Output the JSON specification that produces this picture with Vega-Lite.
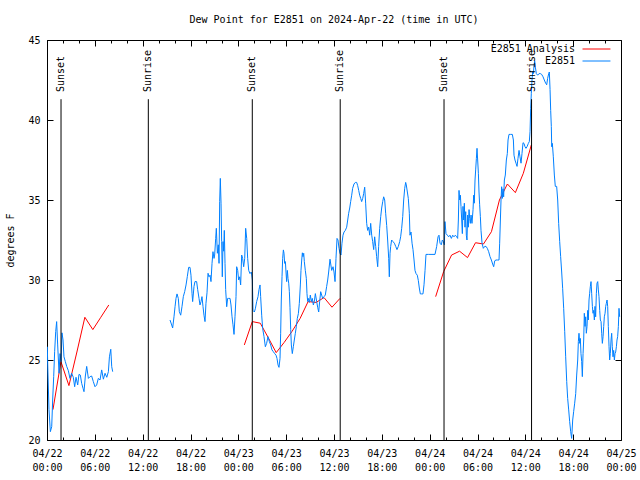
{
  "$schema": "https://vega.github.io/schema/vega-lite/v6.json",
  "width": 574,
  "height": 400,
  "autosize": {"type": "none"},
  "padding": {"left": 47, "top": 40, "right": 19, "bottom": 40},
  "background": "white",
  "title": {"text": "Dew Point for E2851 on 2024-Apr-22 (time in UTC)", "font": "DejaVu Sans Mono", "fontSize": 10, "fontWeight": "normal", "anchor": "middle", "offset": 10, "color": "black"},
  "config": {
    "view": {"stroke": "black", "strokeWidth": 1},
    "font": "DejaVu Sans Mono",
    "axis": {"labelFont": "DejaVu Sans Mono", "labelFontSize": 10, "labelColor": "black", "tickColor": "black", "tickWidth": 1, "titleFont": "DejaVu Sans Mono", "titleFontSize": 10, "titleFontWeight": "normal", "titleColor": "black", "grid": false, "domain": false, "labelFlush": false, "labelOverlap": false, "labelBound": false},
    "legend": {"orient": "none", "legendX": 535, "legendY": 2, "title": null, "symbolType": "M-1,0H3.3", "symbolSize": 169, "symbolStrokeWidth": 1, "labelAlign": "right", "labelOffset": -21, "labelFont": "DejaVu Sans Mono", "labelFontSize": 10, "labelColor": "black", "padding": 0, "rowPadding": 0, "labelLimit": 200}
  },
  "datasets": {
    "analysis": [
      {"seg": 1, "hour": 0.75, "value": 21.9}, {"seg": 1, "hour": 1.75, "value": 24.9}, {"seg": 1, "hour": 2.75, "value": 23.4}, {"seg": 1, "hour": 3.75, "value": 25.5}, {"seg": 1, "hour": 4.75, "value": 27.67}, {"seg": 1, "hour": 5.75, "value": 26.9}, {"seg": 1, "hour": 6.75, "value": 27.67}, {"seg": 1, "hour": 7.75, "value": 28.44},
      {"seg": 2, "hour": 24.75, "value": 25.94}, {"seg": 2, "hour": 25.75, "value": 27.4}, {"seg": 2, "hour": 26.75, "value": 27.3}, {"seg": 2, "hour": 27.75, "value": 26.4}, {"seg": 2, "hour": 28.75, "value": 25.46}, {"seg": 2, "hour": 29.75, "value": 26.1}, {"seg": 2, "hour": 30.75, "value": 26.8}, {"seg": 2, "hour": 31.75, "value": 27.6}, {"seg": 2, "hour": 32.75, "value": 28.65}, {"seg": 2, "hour": 33.75, "value": 28.6}, {"seg": 2, "hour": 34.75, "value": 28.9}, {"seg": 2, "hour": 35.75, "value": 28.3}, {"seg": 2, "hour": 36.75, "value": 28.85},
      {"seg": 3, "hour": 48.75, "value": 28.96}, {"seg": 3, "hour": 49.75, "value": 30.52}, {"seg": 3, "hour": 50.75, "value": 31.56}, {"seg": 3, "hour": 51.75, "value": 31.8}, {"seg": 3, "hour": 52.75, "value": 31.4}, {"seg": 3, "hour": 53.75, "value": 32.33}, {"seg": 3, "hour": 54.75, "value": 32.25}, {"seg": 3, "hour": 55.75, "value": 33.02}, {"seg": 3, "hour": 56.75, "value": 35.0}, {"seg": 3, "hour": 57.75, "value": 36.0}, {"seg": 3, "hour": 58.75, "value": 35.46}, {"seg": 3, "hour": 59.75, "value": 36.67}, {"seg": 3, "hour": 60.75, "value": 38.44}
    ],
    "obs": [
      {"seg": 1, "hour": 0.04, "value": 25.83}, {"seg": 1, "hour": 0.1, "value": 24.5}, {"seg": 1, "hour": 0.25, "value": 21.9}, {"seg": 1, "hour": 0.42, "value": 20.52}, {"seg": 1, "hour": 0.59, "value": 20.83}, {"seg": 1, "hour": 0.71, "value": 22.5}, {"seg": 1, "hour": 0.84, "value": 23.96}, {"seg": 1, "hour": 0.96, "value": 25.52}, {"seg": 1, "hour": 1.09, "value": 26.77}, {"seg": 1, "hour": 1.21, "value": 27.4}, {"seg": 1, "hour": 1.34, "value": 25.94}, {"seg": 1, "hour": 1.51, "value": 24.17}, {"seg": 1, "hour": 1.63, "value": 25.4}, {"seg": 1, "hour": 1.76, "value": 24.9}, {"seg": 1, "hour": 1.88, "value": 26.7}, {"seg": 1, "hour": 2.01, "value": 26.25}, {"seg": 1, "hour": 2.13, "value": 25.2}, {"seg": 1, "hour": 2.3, "value": 24.9}, {"seg": 1, "hour": 2.47, "value": 24.6}, {"seg": 1, "hour": 2.68, "value": 24.33}, {"seg": 1, "hour": 2.88, "value": 23.85}, {"seg": 1, "hour": 3.09, "value": 24.17}, {"seg": 1, "hour": 3.3, "value": 23.92}, {"seg": 1, "hour": 3.47, "value": 23.33}, {"seg": 1, "hour": 3.64, "value": 23.92}, {"seg": 1, "hour": 3.85, "value": 23.44}, {"seg": 1, "hour": 4.01, "value": 24.1}, {"seg": 1, "hour": 4.18, "value": 24.06}, {"seg": 1, "hour": 4.35, "value": 23.54}, {"seg": 1, "hour": 4.52, "value": 23.23}, {"seg": 1, "hour": 4.64, "value": 23.02}, {"seg": 1, "hour": 4.81, "value": 24.0}, {"seg": 1, "hour": 4.98, "value": 24.6}, {"seg": 1, "hour": 5.19, "value": 23.85}, {"seg": 1, "hour": 5.4, "value": 23.96}, {"seg": 1, "hour": 5.6, "value": 24.0}, {"seg": 1, "hour": 5.81, "value": 23.65}, {"seg": 1, "hour": 6.02, "value": 23.33}, {"seg": 1, "hour": 6.23, "value": 23.44}, {"seg": 1, "hour": 6.44, "value": 23.85}, {"seg": 1, "hour": 6.65, "value": 23.75}, {"seg": 1, "hour": 6.86, "value": 24.38}, {"seg": 1, "hour": 7.07, "value": 23.8}, {"seg": 1, "hour": 7.28, "value": 24.17}, {"seg": 1, "hour": 7.5, "value": 23.92}, {"seg": 1, "hour": 7.7, "value": 24.27}, {"seg": 1, "hour": 7.83, "value": 25.2}, {"seg": 1, "hour": 8.0, "value": 25.67}, {"seg": 1, "hour": 8.12, "value": 24.58}, {"seg": 1, "hour": 8.24, "value": 24.27},
      {"seg": 2, "hour": 15.43, "value": 27.5}, {"seg": 2, "hour": 15.64, "value": 27.19}, {"seg": 2, "hour": 15.76, "value": 27.0}, {"seg": 2, "hour": 15.93, "value": 27.7}, {"seg": 2, "hour": 16.06, "value": 28.33}, {"seg": 2, "hour": 16.18, "value": 28.85}, {"seg": 2, "hour": 16.31, "value": 29.13}, {"seg": 2, "hour": 16.47, "value": 28.85}, {"seg": 2, "hour": 16.6, "value": 28.02}, {"seg": 2, "hour": 16.77, "value": 27.8}, {"seg": 2, "hour": 16.93, "value": 28.33}, {"seg": 2, "hour": 17.1, "value": 28.96}, {"seg": 2, "hour": 17.27, "value": 29.27}, {"seg": 2, "hour": 17.44, "value": 29.69}, {"seg": 2, "hour": 17.6, "value": 30.21}, {"seg": 2, "hour": 17.77, "value": 30.79}, {"seg": 2, "hour": 17.94, "value": 30.79}, {"seg": 2, "hour": 18.06, "value": 30.3}, {"seg": 2, "hour": 18.19, "value": 29.17}, {"seg": 2, "hour": 18.27, "value": 28.65}, {"seg": 2, "hour": 18.44, "value": 29.6}, {"seg": 2, "hour": 18.56, "value": 29.9}, {"seg": 2, "hour": 18.77, "value": 29.9}, {"seg": 2, "hour": 18.9, "value": 29.4}, {"seg": 2, "hour": 19.07, "value": 28.85}, {"seg": 2, "hour": 19.19, "value": 28.44}, {"seg": 2, "hour": 19.32, "value": 28.65}, {"seg": 2, "hour": 19.44, "value": 28.96}, {"seg": 2, "hour": 19.57, "value": 28.33}, {"seg": 2, "hour": 19.69, "value": 27.8}, {"seg": 2, "hour": 19.82, "value": 27.4}, {"seg": 2, "hour": 19.94, "value": 28.54}, {"seg": 2, "hour": 20.07, "value": 29.2}, {"seg": 2, "hour": 20.2, "value": 30.42}, {"seg": 2, "hour": 20.32, "value": 30.2}, {"seg": 2, "hour": 20.45, "value": 30.3}, {"seg": 2, "hour": 20.57, "value": 29.9}, {"seg": 2, "hour": 20.7, "value": 31.04}, {"seg": 2, "hour": 20.82, "value": 31.77}, {"seg": 2, "hour": 20.95, "value": 31.35}, {"seg": 2, "hour": 21.03, "value": 31.56}, {"seg": 2, "hour": 21.16, "value": 32.6}, {"seg": 2, "hour": 21.24, "value": 33.23}, {"seg": 2, "hour": 21.37, "value": 31.67}, {"seg": 2, "hour": 21.49, "value": 32.2}, {"seg": 2, "hour": 21.58, "value": 31.04}, {"seg": 2, "hour": 21.66, "value": 34.9}, {"seg": 2, "hour": 21.74, "value": 36.35}, {"seg": 2, "hour": 21.83, "value": 34.8}, {"seg": 2, "hour": 21.91, "value": 32.4}, {"seg": 2, "hour": 21.99, "value": 30.2}, {"seg": 2, "hour": 22.08, "value": 32.4}, {"seg": 2, "hour": 22.16, "value": 31.8}, {"seg": 2, "hour": 22.24, "value": 33.1}, {"seg": 2, "hour": 22.33, "value": 31.04}, {"seg": 2, "hour": 22.41, "value": 29.4}, {"seg": 2, "hour": 22.54, "value": 28.33}, {"seg": 2, "hour": 22.66, "value": 28.85}, {"seg": 2, "hour": 22.79, "value": 28.85}, {"seg": 2, "hour": 22.96, "value": 28.85}, {"seg": 2, "hour": 23.08, "value": 28.44}, {"seg": 2, "hour": 23.21, "value": 27.7}, {"seg": 2, "hour": 23.33, "value": 27.2}, {"seg": 2, "hour": 23.46, "value": 26.6}, {"seg": 2, "hour": 23.58, "value": 27.7}, {"seg": 2, "hour": 23.71, "value": 28.96}, {"seg": 2, "hour": 23.79, "value": 30.83}, {"seg": 2, "hour": 23.92, "value": 30.6}, {"seg": 2, "hour": 24.04, "value": 30.0}, {"seg": 2, "hour": 24.17, "value": 30.2}, {"seg": 2, "hour": 24.29, "value": 29.69}, {"seg": 2, "hour": 24.42, "value": 31.56}, {"seg": 2, "hour": 24.54, "value": 31.35}, {"seg": 2, "hour": 24.67, "value": 30.83}, {"seg": 2, "hour": 24.8, "value": 31.35}, {"seg": 2, "hour": 24.92, "value": 33.23}, {"seg": 2, "hour": 25.05, "value": 32.6}, {"seg": 2, "hour": 25.17, "value": 31.35}, {"seg": 2, "hour": 25.3, "value": 30.6}, {"seg": 2, "hour": 25.46, "value": 30.4}, {"seg": 2, "hour": 25.63, "value": 30.5}, {"seg": 2, "hour": 25.76, "value": 30.0}, {"seg": 2, "hour": 25.84, "value": 28.1}, {"seg": 2, "hour": 26.01, "value": 28.0}, {"seg": 2, "hour": 26.13, "value": 28.2}, {"seg": 2, "hour": 26.3, "value": 28.65}, {"seg": 2, "hour": 26.47, "value": 28.96}, {"seg": 2, "hour": 26.59, "value": 29.4}, {"seg": 2, "hour": 26.72, "value": 29.69}, {"seg": 2, "hour": 26.8, "value": 28.96}, {"seg": 2, "hour": 26.93, "value": 27.8}, {"seg": 2, "hour": 27.05, "value": 26.98}, {"seg": 2, "hour": 27.22, "value": 26.46}, {"seg": 2, "hour": 27.39, "value": 25.83}, {"seg": 2, "hour": 27.55, "value": 26.04}, {"seg": 2, "hour": 27.72, "value": 26.46}, {"seg": 2, "hour": 27.89, "value": 26.15}, {"seg": 2, "hour": 28.06, "value": 25.94}, {"seg": 2, "hour": 28.22, "value": 25.63}, {"seg": 2, "hour": 28.39, "value": 25.52}, {"seg": 2, "hour": 28.56, "value": 25.4}, {"seg": 2, "hour": 28.73, "value": 25.3}, {"seg": 2, "hour": 28.85, "value": 25.1}, {"seg": 2, "hour": 28.98, "value": 24.69}, {"seg": 2, "hour": 29.1, "value": 24.54}, {"seg": 2, "hour": 29.23, "value": 25.1}, {"seg": 2, "hour": 29.31, "value": 26.67}, {"seg": 2, "hour": 29.39, "value": 28.75}, {"seg": 2, "hour": 29.48, "value": 30.21}, {"seg": 2, "hour": 29.56, "value": 31.35}, {"seg": 2, "hour": 29.65, "value": 31.88}, {"seg": 2, "hour": 29.73, "value": 31.67}, {"seg": 2, "hour": 29.81, "value": 31.04}, {"seg": 2, "hour": 29.9, "value": 31.15}, {"seg": 2, "hour": 29.98, "value": 30.5}, {"seg": 2, "hour": 30.06, "value": 29.9}, {"seg": 2, "hour": 30.15, "value": 30.6}, {"seg": 2, "hour": 30.23, "value": 30.1}, {"seg": 2, "hour": 30.32, "value": 29.8}, {"seg": 2, "hour": 30.4, "value": 29.27}, {"seg": 2, "hour": 30.48, "value": 28.3}, {"seg": 2, "hour": 30.57, "value": 26.9}, {"seg": 2, "hour": 30.65, "value": 25.94}, {"seg": 2, "hour": 30.77, "value": 25.4}, {"seg": 2, "hour": 30.9, "value": 25.83}, {"seg": 2, "hour": 31.02, "value": 26.25}, {"seg": 2, "hour": 31.15, "value": 26.67}, {"seg": 2, "hour": 31.28, "value": 27.1}, {"seg": 2, "hour": 31.4, "value": 27.6}, {"seg": 2, "hour": 31.53, "value": 27.9}, {"seg": 2, "hour": 31.65, "value": 28.54}, {"seg": 2, "hour": 31.78, "value": 29.69}, {"seg": 2, "hour": 31.86, "value": 30.6}, {"seg": 2, "hour": 31.95, "value": 31.25}, {"seg": 2, "hour": 32.03, "value": 31.7}, {"seg": 2, "hour": 32.11, "value": 31.46}, {"seg": 2, "hour": 32.2, "value": 31.67}, {"seg": 2, "hour": 32.28, "value": 31.15}, {"seg": 2, "hour": 32.4, "value": 30.6}, {"seg": 2, "hour": 32.53, "value": 30.1}, {"seg": 2, "hour": 32.61, "value": 29.15}, {"seg": 2, "hour": 32.7, "value": 28.65}, {"seg": 2, "hour": 32.78, "value": 28.85}, {"seg": 2, "hour": 32.91, "value": 28.6}, {"seg": 2, "hour": 33.03, "value": 29.06}, {"seg": 2, "hour": 33.16, "value": 28.65}, {"seg": 2, "hour": 33.28, "value": 28.85}, {"seg": 2, "hour": 33.41, "value": 28.44}, {"seg": 2, "hour": 33.53, "value": 28.65}, {"seg": 2, "hour": 33.66, "value": 29.15}, {"seg": 2, "hour": 33.83, "value": 28.65}, {"seg": 2, "hour": 33.95, "value": 28.3}, {"seg": 2, "hour": 34.08, "value": 28.0}, {"seg": 2, "hour": 34.2, "value": 28.65}, {"seg": 2, "hour": 34.33, "value": 29.27}, {"seg": 2, "hour": 34.45, "value": 29.06}, {"seg": 2, "hour": 34.58, "value": 28.85}, {"seg": 2, "hour": 34.75, "value": 28.96}, {"seg": 2, "hour": 34.91, "value": 29.06}, {"seg": 2, "hour": 35.08, "value": 29.6}, {"seg": 2, "hour": 35.21, "value": 30.0}, {"seg": 2, "hour": 35.33, "value": 30.5}, {"seg": 2, "hour": 35.5, "value": 31.3}, {"seg": 2, "hour": 35.71, "value": 30.6}, {"seg": 2, "hour": 35.88, "value": 30.83}, {"seg": 2, "hour": 36.0, "value": 30.5}, {"seg": 2, "hour": 36.13, "value": 29.9}, {"seg": 2, "hour": 36.25, "value": 31.35}, {"seg": 2, "hour": 36.38, "value": 32.6}, {"seg": 2, "hour": 36.5, "value": 32.5}, {"seg": 2, "hour": 36.63, "value": 31.98}, {"seg": 2, "hour": 36.75, "value": 31.67}, {"seg": 2, "hour": 36.88, "value": 31.56}, {"seg": 2, "hour": 37.0, "value": 32.3}, {"seg": 2, "hour": 37.13, "value": 32.8}, {"seg": 2, "hour": 37.26, "value": 33.0}, {"seg": 2, "hour": 37.42, "value": 33.1}, {"seg": 2, "hour": 37.59, "value": 33.3}, {"seg": 2, "hour": 37.72, "value": 33.75}, {"seg": 2, "hour": 37.84, "value": 34.17}, {"seg": 2, "hour": 37.97, "value": 34.5}, {"seg": 2, "hour": 38.09, "value": 34.9}, {"seg": 2, "hour": 38.22, "value": 35.3}, {"seg": 2, "hour": 38.34, "value": 35.73}, {"seg": 2, "hour": 38.51, "value": 36.0}, {"seg": 2, "hour": 38.68, "value": 36.1}, {"seg": 2, "hour": 38.84, "value": 36.1}, {"seg": 2, "hour": 38.97, "value": 35.9}, {"seg": 2, "hour": 39.1, "value": 35.6}, {"seg": 2, "hour": 39.22, "value": 35.3}, {"seg": 2, "hour": 39.35, "value": 35.1}, {"seg": 2, "hour": 39.47, "value": 34.9}, {"seg": 2, "hour": 39.6, "value": 35.1}, {"seg": 2, "hour": 39.72, "value": 35.4}, {"seg": 2, "hour": 39.85, "value": 35.8}, {"seg": 2, "hour": 39.97, "value": 34.8}, {"seg": 2, "hour": 40.1, "value": 33.54}, {"seg": 2, "hour": 40.22, "value": 33.1}, {"seg": 2, "hour": 40.35, "value": 33.3}, {"seg": 2, "hour": 40.48, "value": 32.8}, {"seg": 2, "hour": 40.6, "value": 33.54}, {"seg": 2, "hour": 40.73, "value": 32.8}, {"seg": 2, "hour": 40.85, "value": 32.4}, {"seg": 2, "hour": 40.98, "value": 31.9}, {"seg": 2, "hour": 41.1, "value": 32.7}, {"seg": 2, "hour": 41.23, "value": 32.1}, {"seg": 2, "hour": 41.35, "value": 31.46}, {"seg": 2, "hour": 41.48, "value": 30.83}, {"seg": 2, "hour": 41.6, "value": 32.1}, {"seg": 2, "hour": 41.73, "value": 33.23}, {"seg": 2, "hour": 41.86, "value": 33.96}, {"seg": 2, "hour": 41.98, "value": 34.5}, {"seg": 2, "hour": 42.11, "value": 34.9}, {"seg": 2, "hour": 42.23, "value": 35.2}, {"seg": 2, "hour": 42.36, "value": 35.0}, {"seg": 2, "hour": 42.48, "value": 34.17}, {"seg": 2, "hour": 42.61, "value": 33.4}, {"seg": 2, "hour": 42.73, "value": 32.5}, {"seg": 2, "hour": 42.86, "value": 31.35}, {"seg": 2, "hour": 42.94, "value": 30.2}, {"seg": 2, "hour": 43.03, "value": 31.67}, {"seg": 2, "hour": 43.11, "value": 32.1}, {"seg": 2, "hour": 43.23, "value": 32.5}, {"seg": 2, "hour": 43.4, "value": 32.4}, {"seg": 2, "hour": 43.57, "value": 32.3}, {"seg": 2, "hour": 43.74, "value": 32.1}, {"seg": 2, "hour": 43.9, "value": 31.9}, {"seg": 2, "hour": 44.07, "value": 32.1}, {"seg": 2, "hour": 44.24, "value": 32.4}, {"seg": 2, "hour": 44.36, "value": 32.7}, {"seg": 2, "hour": 44.49, "value": 33.23}, {"seg": 2, "hour": 44.62, "value": 33.96}, {"seg": 2, "hour": 44.74, "value": 35.0}, {"seg": 2, "hour": 44.87, "value": 35.73}, {"seg": 2, "hour": 44.99, "value": 36.1}, {"seg": 2, "hour": 45.07, "value": 35.94}, {"seg": 2, "hour": 45.2, "value": 35.5}, {"seg": 2, "hour": 45.32, "value": 35.1}, {"seg": 2, "hour": 45.45, "value": 34.17}, {"seg": 2, "hour": 45.53, "value": 32.8}, {"seg": 2, "hour": 45.66, "value": 33.0}, {"seg": 2, "hour": 45.79, "value": 32.3}, {"seg": 2, "hour": 45.91, "value": 31.9}, {"seg": 2, "hour": 46.04, "value": 31.25}, {"seg": 2, "hour": 46.16, "value": 30.6}, {"seg": 2, "hour": 46.29, "value": 30.4}, {"seg": 2, "hour": 46.45, "value": 30.3}, {"seg": 2, "hour": 46.58, "value": 29.96}, {"seg": 2, "hour": 46.7, "value": 29.5}, {"seg": 2, "hour": 46.83, "value": 29.13}, {"seg": 2, "hour": 47.0, "value": 29.13}, {"seg": 2, "hour": 47.16, "value": 29.13}, {"seg": 2, "hour": 47.29, "value": 29.7}, {"seg": 2, "hour": 47.42, "value": 30.6}, {"seg": 2, "hour": 47.54, "value": 31.6}, {"seg": 2, "hour": 47.83, "value": 31.6}, {"seg": 2, "hour": 48.04, "value": 31.6}, {"seg": 2, "hour": 48.67, "value": 31.6}, {"seg": 2, "hour": 48.88, "value": 32.1}, {"seg": 2, "hour": 49.05, "value": 32.7}, {"seg": 2, "hour": 49.17, "value": 32.8}, {"seg": 2, "hour": 49.3, "value": 32.3}, {"seg": 2, "hour": 49.46, "value": 32.2}, {"seg": 2, "hour": 49.59, "value": 32.5}, {"seg": 2, "hour": 49.72, "value": 32.4}, {"seg": 2, "hour": 49.84, "value": 32.2}, {"seg": 2, "hour": 49.92, "value": 33.65}, {"seg": 2, "hour": 50.05, "value": 32.9}, {"seg": 2, "hour": 50.22, "value": 32.8}, {"seg": 2, "hour": 50.38, "value": 32.7}, {"seg": 2, "hour": 50.55, "value": 32.8}, {"seg": 2, "hour": 50.72, "value": 32.6}, {"seg": 2, "hour": 50.89, "value": 32.8}, {"seg": 2, "hour": 51.05, "value": 32.7}, {"seg": 2, "hour": 51.22, "value": 32.8}, {"seg": 2, "hour": 51.39, "value": 32.7}, {"seg": 2, "hour": 51.51, "value": 32.6}, {"seg": 2, "hour": 51.6, "value": 33.75}, {"seg": 2, "hour": 51.68, "value": 35.6}, {"seg": 2, "hour": 51.77, "value": 35.0}, {"seg": 2, "hour": 51.85, "value": 35.3}, {"seg": 2, "hour": 51.93, "value": 34.6}, {"seg": 2, "hour": 52.02, "value": 33.75}, {"seg": 2, "hour": 52.1, "value": 32.9}, {"seg": 2, "hour": 52.18, "value": 34.6}, {"seg": 2, "hour": 52.27, "value": 33.75}, {"seg": 2, "hour": 52.35, "value": 34.8}, {"seg": 2, "hour": 52.43, "value": 33.3}, {"seg": 2, "hour": 52.52, "value": 34.27}, {"seg": 2, "hour": 52.6, "value": 32.8}, {"seg": 2, "hour": 52.68, "value": 32.5}, {"seg": 2, "hour": 52.77, "value": 34.06}, {"seg": 2, "hour": 52.85, "value": 33.3}, {"seg": 2, "hour": 52.94, "value": 34.4}, {"seg": 2, "hour": 53.02, "value": 33.85}, {"seg": 2, "hour": 53.1, "value": 33.54}, {"seg": 2, "hour": 53.19, "value": 34.06}, {"seg": 2, "hour": 53.31, "value": 33.54}, {"seg": 2, "hour": 53.44, "value": 34.4}, {"seg": 2, "hour": 53.52, "value": 35.3}, {"seg": 2, "hour": 53.6, "value": 34.8}, {"seg": 2, "hour": 53.69, "value": 36.25}, {"seg": 2, "hour": 53.77, "value": 36.88}, {"seg": 2, "hour": 53.86, "value": 37.6}, {"seg": 2, "hour": 53.94, "value": 38.23}, {"seg": 2, "hour": 54.02, "value": 37.5}, {"seg": 2, "hour": 54.11, "value": 36.67}, {"seg": 2, "hour": 54.19, "value": 35.5}, {"seg": 2, "hour": 54.27, "value": 34.7}, {"seg": 2, "hour": 54.36, "value": 33.96}, {"seg": 2, "hour": 54.44, "value": 33.1}, {"seg": 2, "hour": 54.57, "value": 32.3}, {"seg": 2, "hour": 54.73, "value": 31.98}, {"seg": 2, "hour": 54.9, "value": 32.1}, {"seg": 2, "hour": 55.07, "value": 32.1}, {"seg": 2, "hour": 55.23, "value": 31.98}, {"seg": 2, "hour": 55.4, "value": 31.77}, {"seg": 2, "hour": 55.57, "value": 31.46}, {"seg": 2, "hour": 55.74, "value": 31.25}, {"seg": 2, "hour": 55.9, "value": 31.0}, {"seg": 2, "hour": 56.03, "value": 30.83}, {"seg": 2, "hour": 56.16, "value": 31.2}, {"seg": 2, "hour": 56.32, "value": 31.25}, {"seg": 2, "hour": 56.53, "value": 31.25}, {"seg": 2, "hour": 56.7, "value": 31.25}, {"seg": 2, "hour": 56.78, "value": 32.3}, {"seg": 2, "hour": 56.87, "value": 33.75}, {"seg": 2, "hour": 56.95, "value": 35.0}, {"seg": 2, "hour": 57.03, "value": 35.83}, {"seg": 2, "hour": 57.12, "value": 35.1}, {"seg": 2, "hour": 57.2, "value": 35.7}, {"seg": 2, "hour": 57.28, "value": 35.2}, {"seg": 2, "hour": 57.37, "value": 36.25}, {"seg": 2, "hour": 57.49, "value": 36.56}, {"seg": 2, "hour": 57.62, "value": 37.5}, {"seg": 2, "hour": 57.74, "value": 37.9}, {"seg": 2, "hour": 57.83, "value": 38.75}, {"seg": 2, "hour": 57.95, "value": 39.1}, {"seg": 2, "hour": 58.16, "value": 39.1}, {"seg": 2, "hour": 58.37, "value": 39.1}, {"seg": 2, "hour": 58.5, "value": 38.75}, {"seg": 2, "hour": 58.58, "value": 37.8}, {"seg": 2, "hour": 58.7, "value": 37.5}, {"seg": 2, "hour": 58.83, "value": 37.3}, {"seg": 2, "hour": 58.96, "value": 37.1}, {"seg": 2, "hour": 59.08, "value": 37.6}, {"seg": 2, "hour": 59.21, "value": 38.1}, {"seg": 2, "hour": 59.33, "value": 37.7}, {"seg": 2, "hour": 59.46, "value": 37.3}, {"seg": 2, "hour": 59.58, "value": 37.9}, {"seg": 2, "hour": 59.71, "value": 38.58}, {"seg": 2, "hour": 59.83, "value": 38.54}, {"seg": 2, "hour": 59.96, "value": 38.33}, {"seg": 2, "hour": 60.08, "value": 38.23}, {"seg": 2, "hour": 60.21, "value": 38.33}, {"seg": 2, "hour": 60.38, "value": 38.54}, {"seg": 2, "hour": 60.5, "value": 38.65}, {"seg": 2, "hour": 60.59, "value": 39.27}, {"seg": 2, "hour": 60.67, "value": 40.73}, {"seg": 2, "hour": 60.75, "value": 41.67}, {"seg": 2, "hour": 60.84, "value": 42.5}, {"seg": 2, "hour": 60.92, "value": 43.02}, {"seg": 2, "hour": 61.01, "value": 42.9}, {"seg": 2, "hour": 61.09, "value": 43.4}, {"seg": 2, "hour": 61.17, "value": 43.7}, {"seg": 2, "hour": 61.26, "value": 43.3}, {"seg": 2, "hour": 61.38, "value": 42.9}, {"seg": 2, "hour": 61.55, "value": 42.8}, {"seg": 2, "hour": 61.72, "value": 42.9}, {"seg": 2, "hour": 61.88, "value": 42.9}, {"seg": 2, "hour": 62.05, "value": 42.85}, {"seg": 2, "hour": 62.22, "value": 42.7}, {"seg": 2, "hour": 62.38, "value": 42.5}, {"seg": 2, "hour": 62.55, "value": 42.3}, {"seg": 2, "hour": 62.68, "value": 42.2}, {"seg": 2, "hour": 62.8, "value": 42.6}, {"seg": 2, "hour": 62.93, "value": 42.9}, {"seg": 2, "hour": 63.01, "value": 43.0}, {"seg": 2, "hour": 63.1, "value": 41.9}, {"seg": 2, "hour": 63.18, "value": 40.6}, {"seg": 2, "hour": 63.26, "value": 39.6}, {"seg": 2, "hour": 63.31, "value": 38.33}, {"seg": 2, "hour": 63.39, "value": 38.54}, {"seg": 2, "hour": 63.51, "value": 37.7}, {"seg": 2, "hour": 63.64, "value": 36.56}, {"seg": 2, "hour": 63.76, "value": 35.85}, {"seg": 2, "hour": 63.93, "value": 35.85}, {"seg": 2, "hour": 64.06, "value": 35.0}, {"seg": 2, "hour": 64.18, "value": 33.54}, {"seg": 2, "hour": 64.31, "value": 32.4}, {"seg": 2, "hour": 64.43, "value": 31.46}, {"seg": 2, "hour": 64.56, "value": 30.5}, {"seg": 2, "hour": 64.68, "value": 29.48}, {"seg": 2, "hour": 64.81, "value": 28.23}, {"seg": 2, "hour": 64.94, "value": 26.77}, {"seg": 2, "hour": 65.06, "value": 25.2}, {"seg": 2, "hour": 65.19, "value": 23.65}, {"seg": 2, "hour": 65.31, "value": 22.6}, {"seg": 2, "hour": 65.44, "value": 21.88}, {"seg": 2, "hour": 65.56, "value": 21.15}, {"seg": 2, "hour": 65.69, "value": 20.52}, {"seg": 2, "hour": 65.81, "value": 20.1}, {"seg": 2, "hour": 65.94, "value": 21.25}, {"seg": 2, "hour": 66.06, "value": 21.77}, {"seg": 2, "hour": 66.19, "value": 22.3}, {"seg": 2, "hour": 66.32, "value": 22.9}, {"seg": 2, "hour": 66.44, "value": 24.06}, {"seg": 2, "hour": 66.57, "value": 25.0}, {"seg": 2, "hour": 66.65, "value": 26.15}, {"seg": 2, "hour": 66.73, "value": 26.67}, {"seg": 2, "hour": 66.82, "value": 26.04}, {"seg": 2, "hour": 66.9, "value": 26.35}, {"seg": 2, "hour": 66.98, "value": 25.4}, {"seg": 2, "hour": 67.07, "value": 24.9}, {"seg": 2, "hour": 67.15, "value": 23.96}, {"seg": 2, "hour": 67.24, "value": 25.4}, {"seg": 2, "hour": 67.32, "value": 26.25}, {"seg": 2, "hour": 67.4, "value": 27.92}, {"seg": 2, "hour": 67.49, "value": 27.1}, {"seg": 2, "hour": 67.57, "value": 27.7}, {"seg": 2, "hour": 67.65, "value": 26.67}, {"seg": 2, "hour": 67.74, "value": 27.1}, {"seg": 2, "hour": 67.82, "value": 28.1}, {"seg": 2, "hour": 67.9, "value": 27.5}, {"seg": 2, "hour": 67.99, "value": 28.75}, {"seg": 2, "hour": 68.07, "value": 29.17}, {"seg": 2, "hour": 68.15, "value": 29.58}, {"seg": 2, "hour": 68.24, "value": 29.9}, {"seg": 2, "hour": 68.32, "value": 29.17}, {"seg": 2, "hour": 68.41, "value": 28.35}, {"seg": 2, "hour": 68.49, "value": 27.92}, {"seg": 2, "hour": 68.57, "value": 28.1}, {"seg": 2, "hour": 68.66, "value": 27.5}, {"seg": 2, "hour": 68.74, "value": 28.35}, {"seg": 2, "hour": 68.82, "value": 27.7}, {"seg": 2, "hour": 68.91, "value": 29.17}, {"seg": 2, "hour": 68.99, "value": 29.8}, {"seg": 2, "hour": 69.08, "value": 29.9}, {"seg": 2, "hour": 69.16, "value": 29.38}, {"seg": 2, "hour": 69.24, "value": 28.96}, {"seg": 2, "hour": 69.33, "value": 28.1}, {"seg": 2, "hour": 69.41, "value": 27.5}, {"seg": 2, "hour": 69.5, "value": 27.4}, {"seg": 2, "hour": 69.58, "value": 26.67}, {"seg": 2, "hour": 69.66, "value": 26.04}, {"seg": 2, "hour": 69.75, "value": 26.46}, {"seg": 2, "hour": 69.83, "value": 27.1}, {"seg": 2, "hour": 69.91, "value": 27.7}, {"seg": 2, "hour": 70.0, "value": 27.92}, {"seg": 2, "hour": 70.08, "value": 28.35}, {"seg": 2, "hour": 70.16, "value": 28.54}, {"seg": 2, "hour": 70.25, "value": 28.75}, {"seg": 2, "hour": 70.33, "value": 28.35}, {"seg": 2, "hour": 70.41, "value": 27.1}, {"seg": 2, "hour": 70.5, "value": 25.83}, {"seg": 2, "hour": 70.58, "value": 25.0}, {"seg": 2, "hour": 70.66, "value": 25.4}, {"seg": 2, "hour": 70.75, "value": 26.25}, {"seg": 2, "hour": 70.83, "value": 26.67}, {"seg": 2, "hour": 70.91, "value": 25.83}, {"seg": 2, "hour": 71.0, "value": 25.2}, {"seg": 2, "hour": 71.08, "value": 25.6}, {"seg": 2, "hour": 71.17, "value": 25.0}, {"seg": 2, "hour": 71.25, "value": 25.4}, {"seg": 2, "hour": 71.33, "value": 25.5}, {"seg": 2, "hour": 71.42, "value": 25.83}, {"seg": 2, "hour": 71.5, "value": 26.25}, {"seg": 2, "hour": 71.58, "value": 26.46}, {"seg": 2, "hour": 71.67, "value": 27.1}, {"seg": 2, "hour": 71.75, "value": 28.23}, {"seg": 2, "hour": 71.83, "value": 27.7}
    ],
    "sun": [
      {"hour": 1.76, "label": "Sunset"}, {"hour": 12.71, "label": "Sunrise"}, {"hour": 25.75, "label": "Sunset"}, {"hour": 36.78, "label": "Sunrise"}, {"hour": 49.8, "label": "Sunset"}, {"hour": 60.78, "label": "Sunrise"}
    ]
  },
  "layer": [
    {
      "data": {"name": "analysis"},
      "mark": {"type": "line", "strokeWidth": 1, "clip": true},
      "encoding": {
        "x": {"field": "hour", "type": "quantitative", "scale": {"domain": [0, 72], "nice": false, "zero": false},
              "axis": {"orient": "bottom", "values": [0, 6, 12, 18, 24, 30, 36, 42, 48, 54, 60, 66, 72], "tickSize": -6, "labelPadding": 14, "labelLineHeight": 14, "labelBaseline": "top", "title": null,
                       "labelExpr": "['04/' + (22 + floor(datum.value / 24)), ((datum.value % 24) < 10 ? '0' : '') + (datum.value % 24) + ':00']"}},
        "y": {"field": "value", "type": "quantitative", "scale": {"domain": [20, 45], "nice": false, "zero": false},
              "axis": {"orient": "left", "values": [20, 25, 30, 35, 40, 45], "tickSize": -6, "labelPadding": 13, "title": "degrees F", "titlePadding": 12}},
        "detail": {"field": "seg", "type": "nominal"},
        "color": {"datum": "E2851 Analysis", "type": "nominal", "scale": {"domain": ["E2851 Analysis", "E2851"], "range": ["#ff0000", "#0080ff"]}}
      }
    },
    {
      "data": {"name": "obs"},
      "mark": {"type": "line", "strokeWidth": 1, "clip": true},
      "encoding": {
        "x": {"field": "hour", "type": "quantitative", "scale": {"domain": [0, 72], "nice": false, "zero": false},
              "axis": {"orient": "top", "values": [0, 6, 12, 18, 24, 30, 36, 42, 48, 54, 60, 66, 72], "tickSize": -6, "labels": false, "title": null}},
        "y": {"field": "value", "type": "quantitative", "scale": {"domain": [20, 45], "nice": false, "zero": false},
              "axis": {"orient": "right", "values": [20, 25, 30, 35, 40, 45], "tickSize": -6, "labels": false, "title": null}},
        "detail": {"field": "seg", "type": "nominal"},
        "color": {"datum": "E2851", "type": "nominal", "scale": {"domain": ["E2851 Analysis", "E2851"], "range": ["#ff0000", "#0080ff"]}}
      }
    },
    {
      "data": {"name": "sun"},
      "mark": {"type": "rule", "color": "black", "strokeWidth": 1},
      "encoding": {
        "x": {"field": "hour", "type": "quantitative", "scale": {"domain": [0, 72], "nice": false, "zero": false},
              "axis": {"orient": "bottom", "values": [0, 2, 4, 8, 10, 14, 16, 20, 22, 26, 28, 32, 34, 38, 40, 44, 46, 50, 52, 56, 58, 62, 64, 68, 70], "tickSize": -3, "labels": false, "title": null}},
        "y": {"datum": 41.3, "type": "quantitative", "axis": null},
        "y2": {"datum": 20}
      }
    },
    {
      "data": {"name": "sun"},
      "mark": {"type": "text", "angle": 270, "align": "left", "baseline": "middle", "font": "DejaVu Sans Mono", "fontSize": 10, "color": "black"},
      "encoding": {
        "x": {"field": "hour", "type": "quantitative", "scale": {"domain": [0, 72], "nice": false, "zero": false},
              "axis": {"orient": "top", "values": [0, 2, 4, 8, 10, 14, 16, 20, 22, 26, 28, 32, 34, 38, 40, 44, 46, 50, 52, 56, 58, 62, 64, 68, 70], "tickSize": -3, "labels": false, "title": null}},
        "y": {"datum": 41.75, "type": "quantitative", "axis": null},
        "text": {"field": "label", "type": "nominal"}
      }
    }
  ],
  "resolve": {"axis": {"x": "independent", "y": "independent"}}
}
